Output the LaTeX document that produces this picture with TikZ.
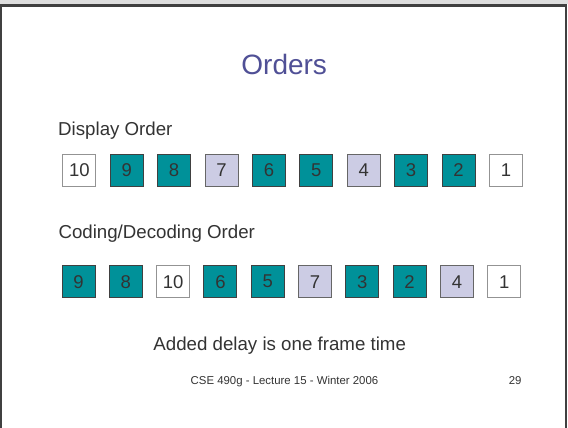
\documentclass[tikz,border=0pt]{standalone}
\usepackage{fontspec}
\setmainfont{Liberation Sans}
\definecolor{teal1}{RGB}{0,145,153}
\definecolor{lav}{RGB}{204,204,228}
\definecolor{titlec}{RGB}{80,80,150}
\definecolor{txt}{RGB}{51,51,51}
\definecolor{frame}{RGB}{64,64,64}
\definecolor{topgray}{RGB}{222,222,222}
\begin{document}
\begin{tikzpicture}[x=1pt,y=1pt,
  base/.style={draw=frame, line width=0.9pt, minimum width=33pt, minimum height=32pt, inner sep=0pt,
    text=txt, font=\fontsize{18.5}{20}\selectfont, anchor=center},
  tealbox/.style={base, fill=teal1},
  lavbox/.style={base, fill=lav, draw=frame!80},
  whitebox/.style={base, fill=white, draw=gray!85},
  label/.style={inner sep=0pt, text=txt, font=\fontsize{18.7}{21}\selectfont},
  foot/.style={inner sep=0pt, text=txt, font=\fontsize{11.4}{13}\selectfont}]
\useasboundingbox (0,0) rectangle (568,428);
\fill[white] (0,0) rectangle (568,428);
\fill[topgray] (0,423.5) rectangle (568,428);
\draw[frame, line width=2.2pt] (1.1,0) -- (1.1,422.4) -- (566,422.4) -- (566,0);
\node[inner sep=0pt, anchor=base, text=titlec, font=\fontsize{28}{30}\selectfont] (title) at (284.2,353) {Orders};
\node[label, anchor=base west] (disp) at (58,292) {Display Order};
\node[label, anchor=base west] (cod) at (58.3,189) {Coding/Decoding Order};
% display order row
\node[whitebox] (d1) at (79.3,258) {10};
\node[tealbox]  (d2) at (126.7,258) {9};
\node[tealbox]  (d3) at (174.1,258) {8};
\node[lavbox]   (d4) at (221.5,258) {7};
\node[tealbox]  (d5) at (268.9,258) {6};
\node[tealbox]  (d6) at (316.3,258) {5};
\node[lavbox]   (d7) at (363.7,258) {4};
\node[tealbox]  (d8) at (411.1,258) {3};
\node[tealbox]  (d9) at (458.5,258) {2};
\node[whitebox] (d10) at (505.9,258) {1};
% coding order row
\node[tealbox]  (c1) at (78.5,146.3) {9};
\node[tealbox]  (c2) at (125.8,146.3) {8};
\node[whitebox] (c3) at (173.1,146.3) {10};
\node[tealbox]  (c4) at (220.4,146.3) {6};
\node[tealbox]  (c5) at (267.7,146.3) {5};
\node[lavbox]   (c6) at (315.0,146.3) {7};
\node[tealbox]  (c7) at (362.3,146.3) {3};
\node[tealbox]  (c8) at (409.6,146.3) {2};
\node[lavbox]   (c9) at (456.9,146.3) {4};
\node[whitebox] (c10) at (504.2,146.3) {1};
\node[label, anchor=base] (delay) at (279.7,77) {Added delay is one frame time};
\node[foot, anchor=base] (footer) at (284.5,43) {CSE 490g - Lecture 15 - Winter 2006};
\node[foot, anchor=base east] (page) at (521.7,43) {29};
\end{tikzpicture}
\end{document}
